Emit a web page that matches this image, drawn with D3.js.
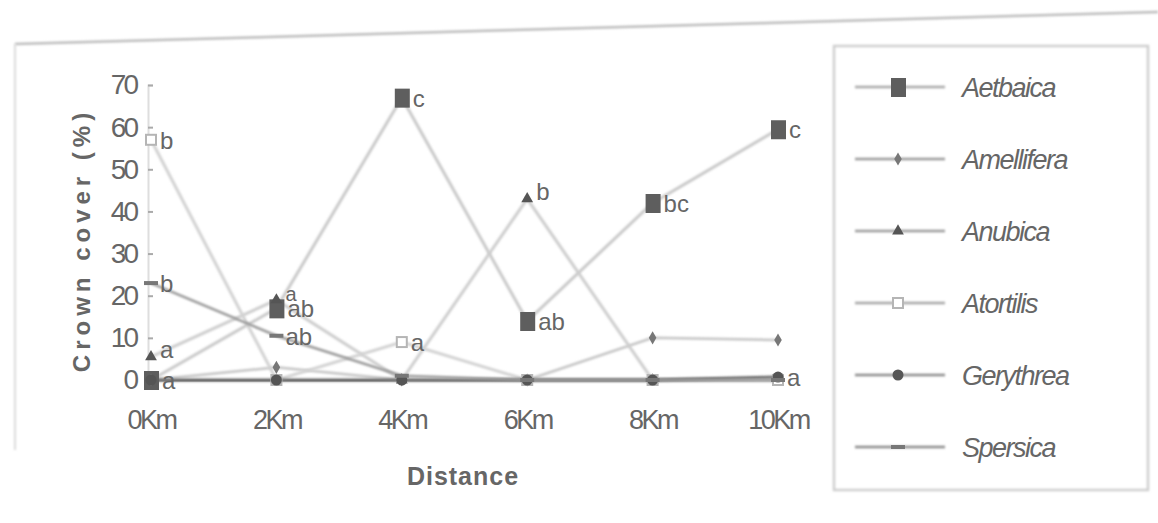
<!DOCTYPE html>
<html>
<head>
<meta charset="utf-8">
<script src="https://cdn.jsdelivr.net/npm/d3@7"></script>
<style>
  body { margin: 0; background: #fff; }
  svg text { font-family: "Liberation Sans", Arial, sans-serif; fill: #666; }
</style>
</head>
<body>
<svg id="chart" width="1158" height="523"></svg>
<script>
// categories and values
var distances = ['0Km', '2Km', '4Km', '6Km', '8Km', '10Km']
var species = ['Aetbaica', 'Amellifera', 'Anubica', 'Atortilis', 'Gerythrea', 'Spersica']
var aetbaica   = [0, 17, 67, 14, 42, 59.5]
var amellifera = [0, 3, 0, 0, 10, 9.5]
var anubica    = [5.5, 19, 0, 43, 0, 0]
var atortilis  = [57, 0, 9, 0, 0, 0]
var gerythrea  = [0, 0, 0, 0, 0, 0.7]
var spersica   = [23, 10.5, 1, 0, 0, 0]
// significance letters next to the points
var aetbaicaLetters   = ['a', 'ab', 'c', 'ab', 'bc', 'c']
var amelliferaLetters = ['', '', '', '', '', '']
var anubicaLetters    = ['a', 'a', '', 'b', '', '']
var atortilisLetters  = ['b', '', 'a', '', '', '']
var gerythreaLetters  = ['', '', '', '', '', 'a']
var spersicaLetters   = ['b', 'ab', '', '', '', '']
var yTicks = [0, 10, 20, 30, 40, 50, 60, 70]

var seriesValues = [aetbaica, amellifera, anubica, atortilis, gerythrea, spersica]
var seriesLetters = [aetbaicaLetters, amelliferaLetters, anubicaLetters, atortilisLetters, gerythreaLetters, spersicaLetters]

var styles = {
  Aetbaica:   { line: '#c9c9c9', legend: '#a8a8a8', width: 3, marker: 'bigsquare', dy: 9 },
  Amellifera: { line: '#c4c4c4', legend: '#999', width: 2.5, marker: 'diamond', dy: 9 },
  Anubica:    { line: '#cdcdcd', legend: '#9a9a9a', width: 3, marker: 'triangle', dy: 1 },
  Atortilis:  { line: '#d2d2d2', legend: '#a5a5a5', width: 3, marker: 'opensquare', dy: 9 },
  Gerythrea:  { line: '#6a6a6a', legend: '#8a8a8a', width: 3, marker: 'circle', dy: 9 },
  Spersica:   { line: '#9a9a9a', legend: '#8a8a8a', width: 2.5, marker: 'dash', dy: 9 }
}

var svg = d3.select('#chart')

var defs = svg.append('defs')
defs.append('filter').attr('id', 'soft')
  .attr('filterUnits', 'userSpaceOnUse')
  .attr('x', 0).attr('y', 0).attr('width', 1158).attr('height', 523)
  .append('feGaussianBlur').attr('stdDeviation', 0.9)

// scanned page frame
svg.append('line').attr('x1', 15).attr('y1', 44).attr('x2', 1158).attr('y2', 12)
  .attr('stroke', '#bdbdbd').attr('stroke-width', 2.5).attr('filter', 'url(#soft)')
svg.append('line').attr('x1', 15).attr('y1', 44).attr('x2', 15).attr('y2', 450)
  .attr('stroke', '#dcdcdc').attr('stroke-width', 2).attr('filter', 'url(#soft)')

var x = d3.scalePoint().domain(distances).range([151, 778])
var y = d3.scaleLinear().domain([0, 70]).range([380, 85])

// axes
var yAxis = svg.append('g')
  .attr('transform', 'translate(148,0)')
  .call(d3.axisLeft(y).tickValues(yTicks).tickSize(-5).tickPadding(12))
yAxis.select('.domain').attr('stroke', '#dedede').attr('stroke-width', 2)
yAxis.selectAll('.tick line').attr('stroke', '#aaa').attr('stroke-width', 2)
yAxis.selectAll('.tick text')
  .attr('font-size', 28).attr('letter-spacing', -3).attr('fill', '#666')

var xAxis = svg.append('g')
  .attr('transform', 'translate(0,380)')
  .call(d3.axisBottom(x).tickSize(0).tickPadding(30))
xAxis.select('.domain').attr('stroke', '#888').attr('stroke-width', 2)
xAxis.selectAll('.tick text')
  .attr('font-size', 27).attr('letter-spacing', -2.5).attr('fill', '#666')

svg.append('text')
  .attr('transform', 'translate(90,240) rotate(-90)')
  .attr('text-anchor', 'middle')
  .attr('font-size', 24).attr('font-weight', 'bold').attr('letter-spacing', 5)
  .text('Crown cover (%)')

svg.append('text')
  .attr('x', 463).attr('y', 485)
  .attr('text-anchor', 'middle')
  .attr('font-size', 25).attr('font-weight', 'bold').attr('letter-spacing', 1)
  .text('Distance')

function drawMarker(g, kind, cx, cy) {
  switch (kind) {
    case 'bigsquare':
      g.append('rect').attr('x', cx - 7).attr('y', cy - 9).attr('width', 15).attr('height', 19)
        .attr('fill', '#5e5e5e')
      break
    case 'diamond':
      g.append('path').attr('d', d3.symbol(d3.symbolDiamond, 50)())
        .attr('transform', 'translate(' + cx + ',' + cy + ')').attr('fill', '#777')
      break
    case 'triangle':
      g.append('path').attr('d', d3.symbol(d3.symbolTriangle, 60)())
        .attr('transform', 'translate(' + cx + ',' + cy + ')').attr('fill', '#555')
      break
    case 'opensquare':
      g.append('rect').attr('x', cx - 5).attr('y', cy - 5).attr('width', 10).attr('height', 10)
        .attr('fill', '#fff').attr('stroke', '#b5b5b5').attr('stroke-width', 2)
      break
    case 'circle':
      g.append('circle').attr('cx', cx).attr('cy', cy).attr('r', 5.5).attr('fill', '#555')
      break
    case 'dash':
      g.append('rect').attr('x', cx - 7).attr('y', cy - 2).attr('width', 14).attr('height', 4)
        .attr('fill', '#777')
      break
  }
}

var line = d3.line()
  .x(function(d, i) { return x(distances[i]) })
  .y(function(d) { return y(d) })

var plot = svg.append('g')

// lines first, then the markers and letters on top
species.forEach(function(name, si) {
  plot.append('path')
    .attr('d', line(seriesValues[si]))
    .attr('fill', 'none')
    .attr('stroke', styles[name].line)
    .attr('stroke-width', styles[name].width)
    .attr('filter', 'url(#soft)')
})

species.forEach(function(name, si) {
  var g = plot.append('g')
  seriesValues[si].forEach(function(v, i) {
    drawMarker(g, styles[name].marker, x(distances[i]), y(v))
    var letter = seriesLetters[si][i]
    if (letter) {
      var dx = name == 'Aetbaica' ? 11 : 9
      g.append('text')
        .attr('x', x(distances[i]) + dx)
        .attr('y', y(v) + styles[name].dy)
        .attr('font-size', name == 'Anubica' && i == 1 ? 20 : 24)
        .attr('fill', '#666')
        .text(letter)
    }
  })
})

// legend
var legend = svg.append('g')
legend.append('rect')
  .attr('x', 834).attr('y', 46).attr('width', 314).attr('height', 444)
  .attr('fill', 'none').attr('stroke', '#cfcfcf').attr('stroke-width', 2.5)
  .attr('filter', 'url(#soft)')

var ly = d3.scalePoint().domain(species).range([87, 447])

species.forEach(function(name) {
  var cy = ly(name)
  var g = legend.append('g')
  g.append('line').attr('x1', 855).attr('x2', 945).attr('y1', cy).attr('y2', cy)
    .attr('stroke', styles[name].legend)
    .attr('stroke-width', 2.5).attr('filter', 'url(#soft)')
  drawMarker(g, styles[name].marker, 898, cy)
  g.append('text')
    .attr('x', 962).attr('y', cy + 10)
    .attr('font-size', 27).attr('font-style', 'italic').attr('letter-spacing', -1.5)
    .attr('fill', '#6e6e6e')
    .text(name)
})
</script>
</body>
</html>
